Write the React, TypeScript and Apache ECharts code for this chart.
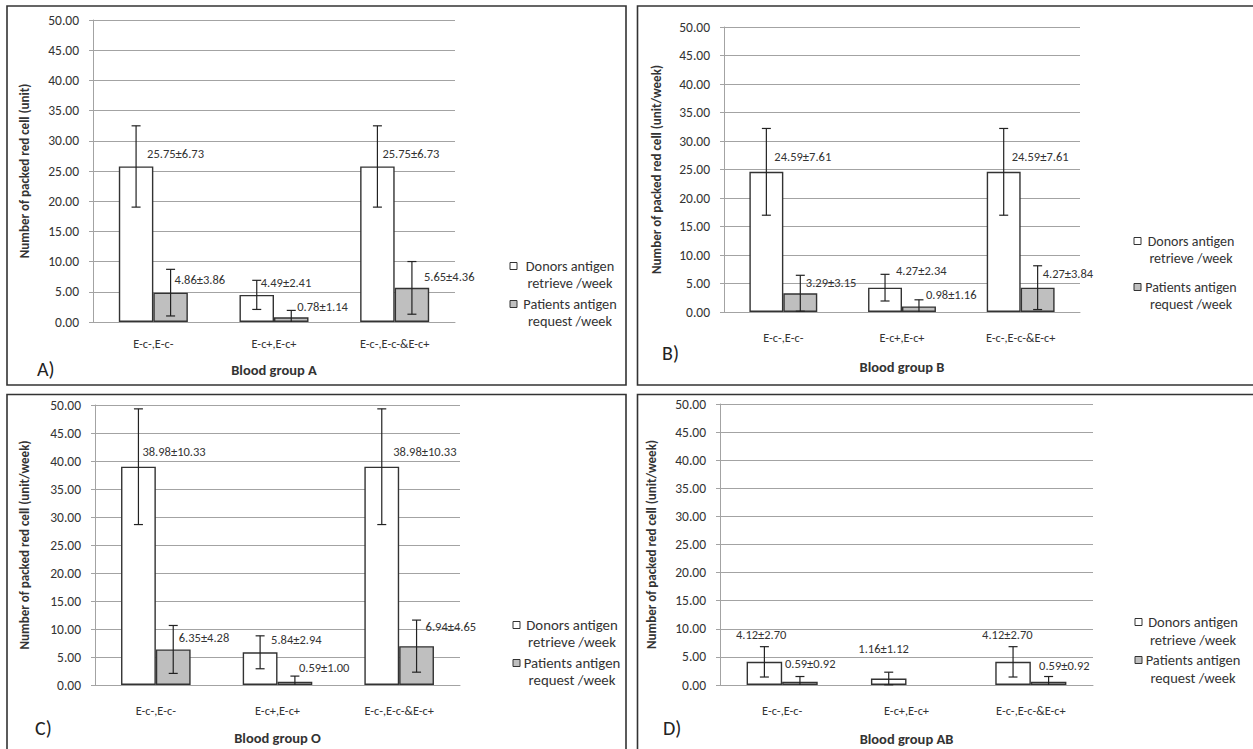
import React, { useEffect, useRef } from 'react';
import * as echarts from 'echarts';

// ---------- data ----------
const categories = ['E-c-,E-c-', 'E-c+,E-c+', 'E-c-,E-c-&E-c+'];
const donorsName = 'Donors antigen retrieve /week';
const patientsName = 'Patients antigen request /week';
const legendDonors = ['Donors antigen', 'retrieve /week'];
const legendPatients = ['Patients antigen', 'request /week'];
const Y_MIN = 0;
const Y_MAX = 50;
const Y_STEP = 5;

const donorsA = [25.75, 4.49, 25.75];
const donorsSdA = [6.73, 2.41, 6.73];
const patientsA = [4.86, 0.78, 5.65];
const patientsSdA = [3.86, 1.14, 4.36];

const donorsB = [24.59, 4.27, 24.59];
const donorsSdB = [7.61, 2.34, 7.61];
const patientsB = [3.29, 0.98, 4.27];
const patientsSdB = [3.15, 1.16, 3.84];

const donorsO = [38.98, 5.84, 38.98];
const donorsSdO = [10.33, 2.94, 10.33];
const patientsO = [6.35, 0.59, 6.94];
const patientsSdO = [4.28, 1.0, 4.65];

const donorsAB = [4.12, 1.16, 4.12];
const donorsSdAB = [2.7, 1.12, 2.7];
const patientsAB = [0.59, 0, 0.59];
const patientsSdAB = [0.92, 0, 0.92];

// ---------- layout ----------
const FONT = 'Carlito, Lato, "Open Sans", sans-serif';
const TEXT = '#333333';
const GRID_COLOR = '#a3a3a3';
const BORDER = '#333333';
const BAR_RATIO = 0.286;

const panels = [
  {
    tag: 'A)', xName: 'Blood group A', yName: 'Number of packed red cell (unit)',
    donors: donorsA, donorsSd: donorsSdA, patients: patientsA, patientsSd: patientsSdA,
    grid: { left: 93, top: 20, width: 362, height: 302 },
    box: { x: 7, y: 6, w: 619, h: 379 },
    tagPos: [37, 369], xNameGap: 40, yNameGap: 62, catMargin: 15,
    legend: { x: 510, y1: 266, y2: 304, lh: 16.5, cx: 570, fs: 14.3 },
    donorsLbl: [[11, -12.5], [4, -12], [5, -12.5]],
    patientsLbl: [[4, -13], [6, -11], [12, -11]],
  },
  {
    tag: 'B)', xName: 'Blood group B', yName: 'Number of packed red cell (unit/week)',
    donors: donorsB, donorsSd: donorsSdB, patients: patientsB, patientsSd: patientsSdB,
    grid: { left: 724, top: 27, width: 356, height: 285 },
    box: { x: 637.5, y: 6, w: 630, h: 379 },
    tagPos: [662, 353], xNameGap: 47, yNameGap: 61, catMargin: 19,
    legend: { x: 1134, y1: 241, y2: 287, lh: 17, cx: 1191, fs: 14 },
    donorsLbl: [[8, -15], [11, -17], [8, -15]],
    patientsLbl: [[5.5, -10.5], [7, -12.4], [5, -13.7]],
  },
  {
    tag: 'C)', xName: 'Blood group O', yName: 'Number of packed red cell (unit/week)',
    donors: donorsO, donorsSd: donorsSdO, patients: patientsO, patientsSd: patientsSdO,
    grid: { left: 95, top: 405, width: 365, height: 280 },
    box: { x: 7, y: 394.5, w: 619, h: 380 },
    tagPos: [35, 728], xNameGap: 45, yNameGap: 64, catMargin: 19,
    legend: { x: 513, y1: 625, y2: 663, lh: 17, cx: 572, fs: 14.8 },
    donorsLbl: [[4, -15], [11, -13], [11.5, -15]],
    patientsLbl: [[5.5, -12.4], [4, -14], [9, -20]],
  },
  {
    tag: 'D)', xName: 'Blood group AB', yName: 'Number of packed red cell (unit/week)',
    donors: donorsAB, donorsSd: donorsSdAB, patients: patientsAB, patientsSd: patientsSdAB,
    grid: { left: 720, top: 404, width: 373, height: 281 },
    box: { x: 637.5, y: 394.5, w: 630, h: 380 },
    tagPos: [663, 728], xNameGap: 46, yNameGap: 62, catMargin: 19,
    legend: { x: 1135, y1: 622, y2: 660, lh: 17.5, cx: 1193, fs: 14.5 },
    donorsLbl: [[-28.5, -27], [-30.4, -29.5], [-31, -27]],
    patientsLbl: [[-15, -18], [0, 0], [-9.5, -16]],
  },
];

function fmt(v: number) {
  return v.toFixed(2);
}

function errorRenderer(sign: number) {
  return (params: any, api: any) => {
    const ci = api.value(0);
    const v = api.value(1);
    const sd = api.value(2);
    if (!sd) return null;
    const catW = api.size([1, 0])[0];
    const bw = catW * BAR_RATIO;
    const c = api.coord([ci, v]);
    const x = c[0] + (sign * bw) / 2;
    const top = api.coord([ci, v + sd])[1];
    const lowV = v - sd;
    const bot = api.coord([ci, Math.max(Y_MIN, lowV)])[1];
    const style = { stroke: '#222', lineWidth: 1.2 };
    const children: any[] = [
      { type: 'line', shape: { x1: x, y1: top, x2: x, y2: bot }, style },
      { type: 'line', shape: { x1: x - 4.5, y1: top, x2: x + 4.5, y2: top }, style },
    ];
    if (lowV >= Y_MIN) {
      children.push({ type: 'line', shape: { x1: x - 4.5, y1: bot, x2: x + 4.5, y2: bot }, style });
    }
    return { type: 'group', children };
  };
}

function buildOption() {
  const grid: any[] = [];
  const xAxis: any[] = [];
  const yAxis: any[] = [];
  const series: any[] = [];
  const graphic: any[] = [];

  panels.forEach((p, i) => {
    grid.push({ ...p.grid, containLabel: false });
    xAxis.push({
      type: 'category', gridIndex: i, data: categories,
      name: p.xName, nameLocation: 'middle', nameGap: p.xNameGap,
      nameTextStyle: { fontFamily: FONT, fontWeight: 'bold', fontSize: 14.5, color: TEXT },
      axisLine: { lineStyle: { color: GRID_COLOR, width: 1 } },
      axisTick: { show: false },
      axisLabel: { margin: p.catMargin, fontFamily: FONT, fontSize: 12.3, color: TEXT },
      splitLine: { show: false },
    });
    yAxis.push({
      type: 'value', gridIndex: i, min: Y_MIN, max: Y_MAX, interval: Y_STEP,
      name: p.yName, nameLocation: 'middle', nameGap: p.yNameGap, nameRotate: 90,
      nameTextStyle: { fontFamily: FONT, fontWeight: 'bold', fontSize: 13, color: TEXT },
      axisLine: { show: true, lineStyle: { color: GRID_COLOR, width: 1 } },
      axisTick: { show: true, length: 4, lineStyle: { color: GRID_COLOR } },
      axisLabel: { formatter: (v: number) => fmt(v), margin: 14, fontFamily: FONT, fontSize: 13.5, color: TEXT },
      splitLine: { show: true, lineStyle: { color: GRID_COLOR, width: 1 } },
    });

    const mkBar = (name: string, vals: number[], sds: number[], lbl: number[][], fill: string) => ({
      type: 'bar', name, xAxisIndex: i, yAxisIndex: i,
      barWidth: (BAR_RATIO * 100) + '%', barGap: '0%',
      itemStyle: { color: fill, borderColor: BORDER, borderWidth: 1.4 },
      label: {
        show: true, position: ['50%', 0], align: 'left', verticalAlign: 'middle',
        fontFamily: FONT, fontSize: 12.5, color: TEXT,
      },
      data: vals.map((v, k) => {
        const empty = v === 0 && sds[k] === 0;
        return {
          value: v,
          itemStyle: empty ? { borderWidth: 0 } : undefined,
          label: empty ? { show: false } : { offset: lbl[k], formatter: `${fmt(v)}±${fmt(sds[k])}` },
        };
      }),
      z: 2,
    });
    series.push(mkBar(donorsName, p.donors, p.donorsSd, p.donorsLbl, '#ffffff'));
    series.push(mkBar(patientsName, p.patients, p.patientsSd, p.patientsLbl, '#bfbfbf'));

    const mkErr = (name: string, vals: number[], sds: number[], sign: number) => ({
      type: 'custom', name, xAxisIndex: i, yAxisIndex: i,
      renderItem: errorRenderer(sign),
      encode: { x: 0, y: 1 },
      data: vals.map((v, k) => [k, v, sds[k]]),
      z: 5, silent: true,
    });
    series.push(mkErr(donorsName + ' error', p.donors, p.donorsSd, -1));
    series.push(mkErr(patientsName + ' error', p.patients, p.patientsSd, 1));

    graphic.push({
      type: 'rect', shape: { x: p.box.x, y: p.box.y, width: p.box.w, height: p.box.h },
      style: { fill: 'none', stroke: BORDER, lineWidth: 1.6 }, silent: true, z: 0,
    });
    graphic.push({
      type: 'text', x: p.tagPos[0], y: p.tagPos[1],
      style: { text: p.tag, fontFamily: FONT, fontSize: 20, fill: '#222', align: 'left', verticalAlign: 'middle' },
    });
    const L = p.legend;
    const items = [
      { lines: legendDonors, fill: '#ffffff', y: L.y1 },
      { lines: legendPatients, fill: '#bfbfbf', y: L.y2 },
    ];
    items.forEach((it) => {
      graphic.push({
        type: 'rect', shape: { x: L.x, y: it.y - 3.5, width: 7, height: 7 },
        style: { fill: it.fill, stroke: BORDER, lineWidth: 1 },
      });
      it.lines.forEach((ln, k) => {
        graphic.push({
          type: 'text', x: L.cx, y: it.y + k * L.lh,
          style: { text: ln, fontFamily: FONT, fontSize: L.fs, lineHeight: L.fs, fill: TEXT, align: 'center', verticalAlign: 'middle' },
        });
      });
    });
  });

  return { animation: false, backgroundColor: '#ffffff', grid, xAxis, yAxis, series, graphic };
}

export default function App() {
  const ref = useRef<HTMLDivElement>(null);
  useEffect(() => {
    document.body.style.margin = '0';
    if (!ref.current) return;
    const chart = echarts.init(ref.current, undefined, { renderer: 'svg' });
    chart.setOption(buildOption() as any);
    return () => chart.dispose();
  }, []);
  return <div ref={ref} style={{ width: 1253, height: 749 }} />;
}
